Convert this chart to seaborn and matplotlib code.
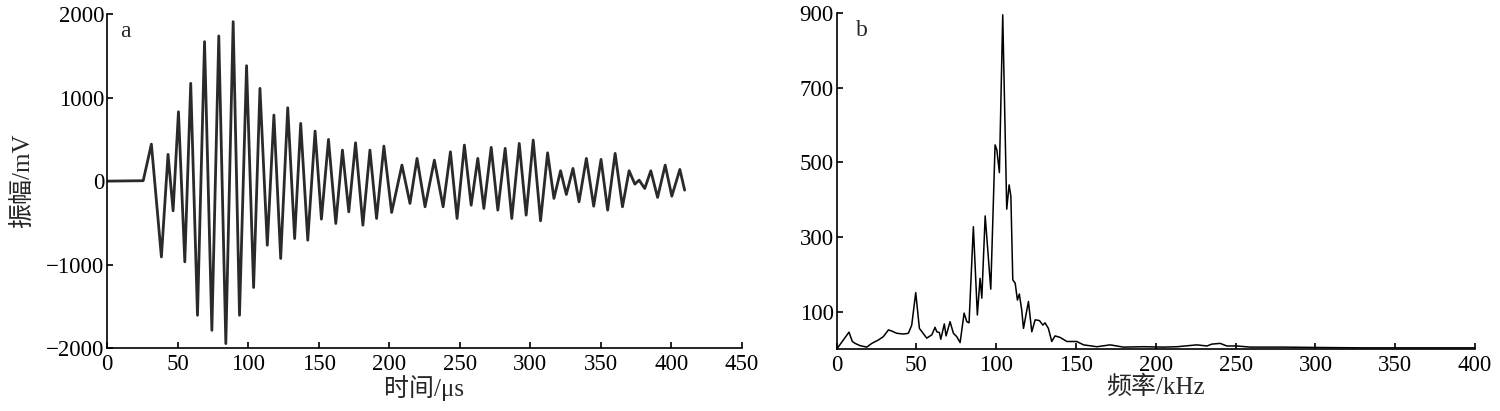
import matplotlib
matplotlib.use("Agg")
import matplotlib.pyplot as plt
import seaborn as sns
import pandas as pd

# ---- Panel a: waveform (time in µs, amplitude in mV), extrema
wave_t = [0, 25.5, 31.3, 38.4, 43.1, 46.7, 50.5, 55.0, 59.2, 64.0, 69.0, 74.2, 79.1, 84.1,
          89.3, 93.8, 98.8, 103.8, 108.3, 113.5, 118.2, 123.0, 128.0, 132.9, 137.2, 142.2,
          147.4, 151.9, 156.9, 162.1, 166.8, 171.3, 176.1, 181.3, 186.3, 191.0, 196.2, 201.7,
          209.0, 214.7, 219.7, 225.4, 232.0, 238.2, 243.4, 248.1, 253.3, 258.1, 262.8, 267.1,
          272.3, 277.0, 282.2, 286.9, 292.2, 297.1, 302.1, 307.3, 312.3, 316.8, 321.5, 325.6,
          330.3, 334.6, 339.8, 345.0, 350.2, 354.9, 360.2, 365.4, 370.1, 374.2, 377.2, 381.2,
          385.5, 390.3, 395.7, 400.4, 406.1, 409.5]
wave_v = [0, 5, 443, -907, 320, -355, 830, -966, 1170, -1605, 1669, -1785, 1737, -1944,
          1908, -1605, 1381, -1273, 1110, -767, 790, -926, 878, -687, 691, -707,
          599, -455, 499, -507, 371, -367, 459, -527, 371, -447, 419, -375,
          192, -267, 272, -307, 251, -307, 351, -447, 431, -288, 272, -327,
          404, -347, 392, -447, 451, -407, 491, -475, 339, -207, 124, -160,
          152, -247, 272, -300, 260, -347, 332, -307, 124, -36, 12, -88,
          124, -195, 192, -180, 140, -108]

# ---- Panel b: spectrum (frequency in kHz, amplitude)
spec_f = [0.5, 7.8, 9.9, 11.6, 14.7, 18.9, 22.1, 26.2, 29.3, 32.5, 34.6, 37.7, 41.9, 45.0,
          47.1, 49.6, 51.9, 56.5, 59.7, 61.7, 62.8, 64.4, 65.3, 67.5, 68.6, 71.1, 73.2, 75.3,
          77.4, 79.9, 81.6, 83.0, 85.7, 88.2, 89.9, 91.0, 93.1, 96.6, 99.3, 100.4, 102.0,
          104.1, 106.6, 108.1, 109.2, 110.4, 111.9, 113.3, 114.5, 116.0, 117.1, 120.2, 122.3,
          124.4, 127.1, 129.2, 130.6, 132.7, 134.8, 136.9, 140.0, 144.3, 150.5, 154.7, 163.1,
          171.4, 179.7, 192.2, 204.8, 213.2, 225.7, 232.0, 235.1, 240.3, 244.5, 250.8, 259.1,
          280.0, 301.0, 330.0, 360.0, 400.0]
spec_a = [3, 46, 21, 16, 10, 6, 16, 25, 34, 52, 49, 43, 41, 43,
          65, 152, 56, 30, 39, 59, 47, 45, 27, 68, 36, 74, 43, 34,
          18, 97, 74, 71, 328, 92, 190, 137, 357, 161, 547, 534, 473,
          895, 375, 440, 409, 186, 177, 132, 148, 105, 56, 128, 47,
          79, 77, 65, 71, 56, 21, 36, 32, 21, 21, 12, 7,
          12, 6, 7, 6, 7, 12, 9, 14, 16, 9, 9, 6,
          6, 5, 4, 4, 4]

x_ticks_a = [0, 50, 100, 150, 200, 250, 300, 350, 400, 450]
y_ticks_a = [-2000, -1000, 0, 1000, 2000]
x_ticks_b = [0, 50, 100, 150, 200, 250, 300, 350, 400]
y_ticks_b = [100, 300, 500, 700, 900]

sns.set_theme(style="ticks")
plt.rcParams['font.family'] = ['Liberation Serif', 'Noto Sans CJK SC']
plt.rcParams['axes.linewidth'] = 1.2
plt.rcParams['xtick.direction'] = 'in'
plt.rcParams['ytick.direction'] = 'in'

fig = plt.figure(figsize=(15, 4.11), dpi=100)
ax1 = fig.add_axes([0.0715, 0.1526, 0.423, 0.8134])
ax2 = fig.add_axes([0.5577, 0.150, 0.4257, 0.8185])

df_a = pd.DataFrame({"t": wave_t, "v": wave_v})
df_b = pd.DataFrame({"f": spec_f, "a": spec_a})

sns.lineplot(data=df_a, x="t", y="v", ax=ax1, sort=False, estimator=None,
             color="#2a2a2a", linewidth=2.0)
sns.lineplot(data=df_b, x="f", y="a", ax=ax2, sort=False, estimator=None,
             color="black", linewidth=1.1)

for ax in (ax1, ax2):
    sns.despine(ax=ax)
    ax.tick_params(axis='both', labelsize=16.5, length=4.5, width=1.2, colors='black')
    ax.tick_params(axis='x', pad=4)
    ax.tick_params(axis='y', pad=2)
    for s in ("left", "bottom"):
        ax.spines[s].set_color("black")

ax1.set_xlim(0, 450)
ax1.set_ylim(-2000, 2000)
ax1.set_xticks(x_ticks_a)
ax1.set_yticks(y_ticks_a)
ax1.set_yticklabels(["\u22122000", "\u22121000", "0", "1000", "2000"])
ax1.set_xlabel("时间/μs", fontsize=18, labelpad=0)
ax1.set_ylabel("振幅/mV", fontsize=18, labelpad=9)
ax1.text(0.02, 0.98, "a", transform=ax1.transAxes, fontsize=17, va="top", ha="left")

ax2.set_xlim(0, 400)
ax2.set_ylim(0, 900)
ax2.set_xticks(x_ticks_b)
ax2.set_yticks(y_ticks_b)
ax2.set_xlabel("频率/kHz", fontsize=18, labelpad=0)
ax2.set_ylabel("")
ax2.text(0.03, 0.98, "b", transform=ax2.transAxes, fontsize=17, va="top", ha="left")

fig.savefig("out.png", dpi=100)
